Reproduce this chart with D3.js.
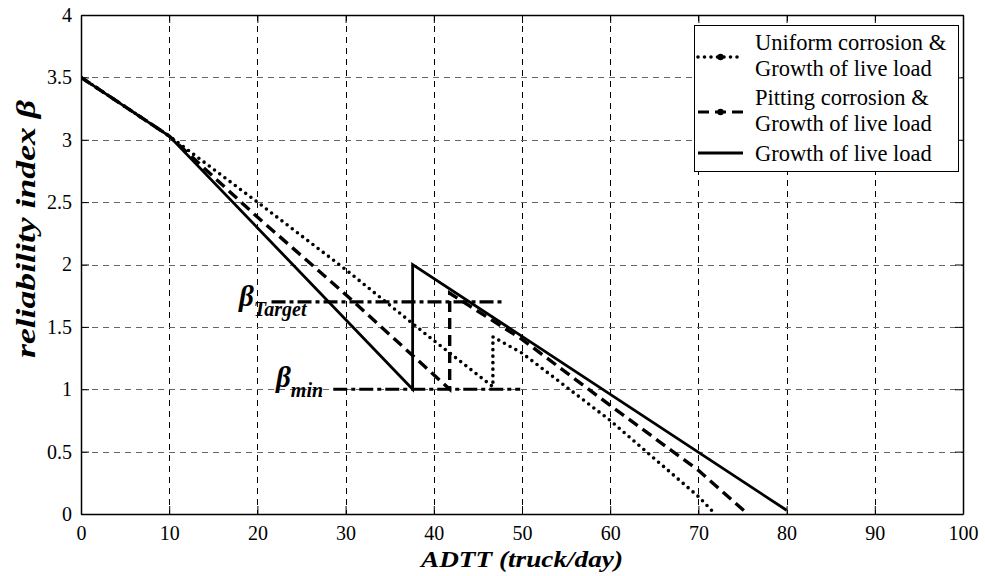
<!DOCTYPE html>
<html><head><meta charset="utf-8">
<script src="https://cdn.jsdelivr.net/npm/d3@7"></script>
<style>body{margin:0;background:#fff}svg{display:block}</style>
</head><body><svg id="c" width="985" height="576"></svg>
<script>
const xTicks=[0,10,20,30,40,50,60,70,80,90,100];
const yTicks=[0,0.5,1,1.5,2,2.5,3,3.5,4];
const yTickLabels=["0","0.5","1","1.5","2","2.5","3","3.5","4"];
const uniformX=[0,10,20,30,40,46.7,46.7,50,60,70,71.9];
const uniformY=[3.5,3.03,2.5,1.96,1.39,1.02,1.42,1.29,0.75,0.14,0];
const pittingX=[0,10,20,30,41.8,41.8,50,60,70,75.6];
const pittingY=[3.5,3.03,2.38,1.76,1.0,1.77,1.40,0.87,0.35,0];
const liveX=[0,10,37.6,37.6,80];
const liveY=[3.5,3.03,1.0,2.0,0.03];
const targetX=[21.6,47.9], targetY=[1.7,1.7];
const minX=[28.6,49.8], minY=[1.0,1.0];
const legendLabels=[["Uniform corrosion &","Growth of live load"],["Pitting corrosion &","Growth of live load"],["Growth of live load"]];

const FONT="'Liberation Serif','Times New Roman',serif";
const svg=d3.select("#c").attr("font-family",FONT);
const L=81,R=963,T=15,B=514;
const x=d3.scaleLinear().domain([0,100]).range([L,R]);
const y=d3.scaleLinear().domain([0,4]).range([B,T]);

// grid
const g=svg.append("g");
xTicks.slice(1,-1).forEach(v=>g.append("line").attr("x1",Math.round(x(v))+0.5).attr("x2",Math.round(x(v))+0.5).attr("y1",T).attr("y2",B)
  .attr("stroke","#000").attr("stroke-width",1).attr("stroke-dasharray","6,5"));
yTicks.slice(1,-1).forEach(v=>g.append("line").attr("y1",Math.round(y(v))+0.5).attr("y2",Math.round(y(v))+0.5).attr("x1",L).attr("x2",R)
  .attr("stroke","#666").attr("stroke-width",1).attr("stroke-dasharray","6,5"));

// axes
const xa=svg.append("g").attr("transform",`translate(0,${B})`).call(d3.axisBottom(x).tickValues(xTicks).tickSizeInner(-8).tickSizeOuter(0).tickPadding(12));
const xt=svg.append("g").attr("transform",`translate(0,${T})`).call(d3.axisTop(x).tickValues(xTicks).tickSizeInner(-8).tickSizeOuter(0).tickFormat(""));
const ya=svg.append("g").attr("transform",`translate(${L},0)`).call(d3.axisLeft(y).tickValues(yTicks).tickSizeInner(-8).tickSizeOuter(0).tickPadding(9).tickFormat((d,i)=>yTickLabels[i]));
const yr=svg.append("g").attr("transform",`translate(${R},0)`).call(d3.axisRight(y).tickValues(yTicks).tickSizeInner(-8).tickSizeOuter(0).tickFormat(""));
[xa,xt,ya,yr].forEach(a=>{a.attr("font-family",FONT);a.selectAll("path").attr("stroke","#000").attr("stroke-width",1.5);a.selectAll("line").attr("stroke","#000");
  a.selectAll("text").attr("font-size",20).attr("fill","#000");});
xa.selectAll("text").attr("dy","0.71em");

// clip
svg.append("clipPath").attr("id","clp").append("rect").attr("x",L).attr("y",T-2).attr("width",R-L).attr("height",B-T+2);

const line=d3.line().x(d=>x(d[0])).y(d=>y(d[1]));
const P=svg.append("g").attr("clip-path","url(#clp)");
function draw(xs,ys,w,dash){P.append("path").datum(xs.map((v,i)=>[v,ys[i]])).attr("d",line).attr("fill","none").attr("stroke","#000")
  .attr("stroke-width",w).attr("stroke-dasharray",dash).attr("stroke-linecap",dash&&dash.startsWith("0")?"round":"butt");}
draw(targetX,targetY,3.2,"14,4,4,4");
draw(minX,minY,3.2,"14,4,4,4");
draw(uniformX,uniformY,3.6,"0,6.5");
draw(pittingX,pittingY,3.4,"11,6");
draw(liveX,liveY,2.8,null);

// beta labels
function betaLabel(px,py,sub){const t=svg.append("text").attr("x",px).attr("y",py).attr("font-weight","bold").attr("font-style","italic");
  t.append("tspan").attr("font-size",29).text("β");
  t.append("tspan").attr("font-size",20).attr("dy",10).text(sub);}
betaLabel(239,306,"Target");
betaLabel(276,387,"min");

// legend
const lg=svg.append("g");
lg.append("rect").attr("x",694.5).attr("y",25.5).attr("width",264).attr("height",146).attr("fill","#fff").attr("stroke","#000").attr("stroke-width",1);
const ls=[{y:57,dash:"0,6.5",w:3.6,dot:true,lines:legendLabels[0],ty:[50,76]},
          {y:112,dash:"11,6",w:3.2,dot:true,lines:legendLabels[1],ty:[105,131]},
          {y:153,dash:null,w:3.2,dot:false,lines:legendLabels[2],ty:[161]}];
ls.forEach(s=>{
  lg.append("line").attr("x1",698).attr("x2",743).attr("y1",s.y).attr("y2",s.y).attr("stroke","#000").attr("stroke-width",s.w)
    .attr("stroke-dasharray",s.dash).attr("stroke-linecap",s.dash&&s.dash.startsWith("0")?"round":"butt");
  if(s.dot) lg.append("circle").attr("cx",720.5).attr("cy",s.y).attr("r",3.2).attr("fill","#000");
  s.lines.forEach((t,i)=>lg.append("text").attr("x",755).attr("y",s.ty[i]).attr("font-size",22.5).attr("fill","#000").text(t));
});

// axis titles
svg.append("text").attr("x",(L+R)/2).attr("y",567).attr("text-anchor","middle").attr("font-size",24).attr("font-weight","bold").attr("font-style","italic")
  .attr("textLength",202).attr("lengthAdjust","spacingAndGlyphs").text("ADTT (truck/day)");
svg.append("text").attr("transform","translate(35,229) rotate(-90)").attr("text-anchor","middle").attr("font-size",27).attr("font-weight","bold").attr("font-style","italic")
  .attr("textLength",258).attr("lengthAdjust","spacingAndGlyphs").text("reliability index β");
</script></body></html>
